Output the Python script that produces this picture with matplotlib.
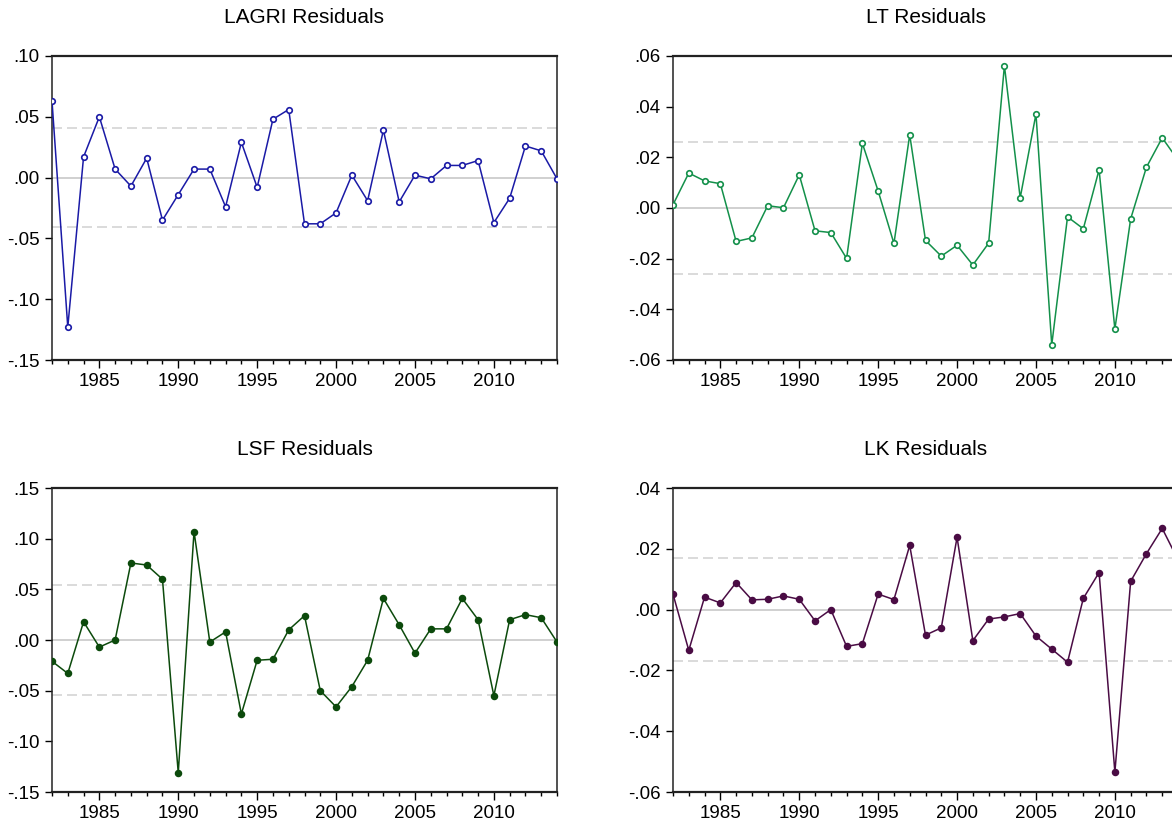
"""
Residual plots for the four estimated equations (LAGRI, LT, LSF, LK), 1982-2014.
"""

import matplotlib
matplotlib.use('Agg')
from matplotlib import pyplot as plt
from matplotlib.ticker import MultipleLocator, FuncFormatter

plt.rcParams['font.family'] = ['Liberation Sans', 'DejaVu Sans']

years = list(range(1982, 2015))

lagri_resid = [0.063, -0.123, 0.017, 0.050, 0.007, -0.007, 0.016, -0.035, -0.014, 0.007,
               0.007, -0.024, 0.029, -0.008, 0.048, 0.056, -0.038, -0.038, -0.029, 0.002,
               -0.019, 0.039, -0.020, 0.002, -0.001, 0.010, 0.010, 0.014, -0.037, -0.017,
               0.026, 0.022, -0.001]
lt_resid = [0.0013, 0.0138, 0.0107, 0.0096, -0.0132, -0.0118, 0.0009, 0.0001, 0.0131, -0.0090,
            -0.0097, -0.0199, 0.0255, 0.0067, -0.0140, 0.0289, -0.0128, -0.0190, -0.0147, -0.0225,
            -0.0139, 0.0562, 0.0040, 0.0371, -0.0540, -0.0035, -0.0082, 0.0151, -0.0478, -0.0043,
            0.0161, 0.0277, 0.0189]
lsf_resid = [-0.021, -0.033, 0.018, -0.007, 0.000, 0.076, 0.074, 0.060, -0.131, 0.107,
             -0.002, 0.008, -0.073, -0.020, -0.019, 0.010, 0.024, -0.050, -0.066, -0.046,
             -0.020, 0.041, 0.015, -0.013, 0.011, 0.011, 0.041, 0.020, -0.055, 0.020,
             0.025, 0.022, -0.002]
lk_resid = [0.0051, -0.0134, 0.0041, 0.0022, 0.0089, 0.0032, 0.0034, 0.0045, 0.0034, -0.0037,
            0.0000, -0.0121, -0.0112, 0.0051, 0.0033, 0.0211, -0.0084, -0.0060, 0.0238, -0.0102,
            -0.0031, -0.0024, -0.0013, -0.0087, -0.0130, -0.0173, 0.0037, 0.0122, -0.0535, 0.0093,
            0.0184, 0.0267, 0.0164]

# standard error bands drawn as dashed lines
lagri_se = 0.0406
lt_se = 0.0259
lsf_se = 0.0540
lk_se = 0.0169

titles = ['LAGRI Residuals', 'LT Residuals', 'LSF Residuals', 'LK Residuals']


def short_fmt(v, pos):
    # EViews style labels: .05, -.10 ...
    return ('%.2f' % v).replace('0.', '.', 1)


def resid_panel(ax, y, se, title, color, filled, ylim, ystep):
    """
    Draw one residual series with zero line and +/- one standard error bands.
    """
    ax.axhline(0, color='#d0d0d0', lw=1.4, zorder=1)
    ax.axhline(se, color='#d4d4d4', lw=1.2, ls=(0, (6, 3)), zorder=1)
    ax.axhline(-se, color='#d4d4d4', lw=1.2, ls=(0, (6, 3)), zorder=1)

    face = color if filled else 'white'
    ax.plot(years, y, color=color, lw=1.1, marker='o', ms=4.2 if filled else 4.0,
            mfc=face, mec=color, mew=1.2, zorder=3)

    ax.set_xlim(1982, 2014)
    ax.set_ylim(*ylim)
    ax.xaxis.set_major_locator(MultipleLocator(5))
    ax.xaxis.set_minor_locator(MultipleLocator(1))
    ax.yaxis.set_major_locator(MultipleLocator(ystep))
    ax.yaxis.set_major_formatter(FuncFormatter(short_fmt))

    ax.tick_params(axis='x', which='major', length=6, width=1.0, pad=3, labelsize=13.5)
    ax.tick_params(axis='x', which='minor', length=3, width=1.0)
    ax.tick_params(axis='y', which='major', length=5, width=1.0, pad=4, labelsize=13.5)
    for side in ['top', 'bottom']:
        ax.spines[side].set_linewidth(1.6)
    for side in ['left', 'right']:
        ax.spines[side].set_linewidth(1.1)
    for s in ax.spines.values():
        s.set_color('#222222')

    ax.set_title(title, fontsize=15, pad=24)


fig = plt.figure(figsize=(11.72, 8.22), dpi=100)

w = 505 / 1172.0
h = 304 / 822.0
ax1 = fig.add_axes([52 / 1172.0, 1 - 360 / 822.0, w, h])
ax2 = fig.add_axes([673 / 1172.0, 1 - 360 / 822.0, w, h])
ax3 = fig.add_axes([52 / 1172.0, 1 - 792 / 822.0, w, h])
ax4 = fig.add_axes([673 / 1172.0, 1 - 792 / 822.0, w, h])

resid_panel(ax1, lagri_resid, lagri_se, titles[0], '#1a1aa6', False, (-0.15, 0.10), 0.05)
resid_panel(ax2, lt_resid, lt_se, titles[1], '#13904a', False, (-0.06, 0.06), 0.02)
resid_panel(ax3, lsf_resid, lsf_se, titles[2], '#0c4a0c', True, (-0.15, 0.15), 0.05)
resid_panel(ax4, lk_resid, lk_se, titles[3], '#4a0c44', True, (-0.06, 0.04), 0.02)

plt.savefig('out.png', dpi=100)
